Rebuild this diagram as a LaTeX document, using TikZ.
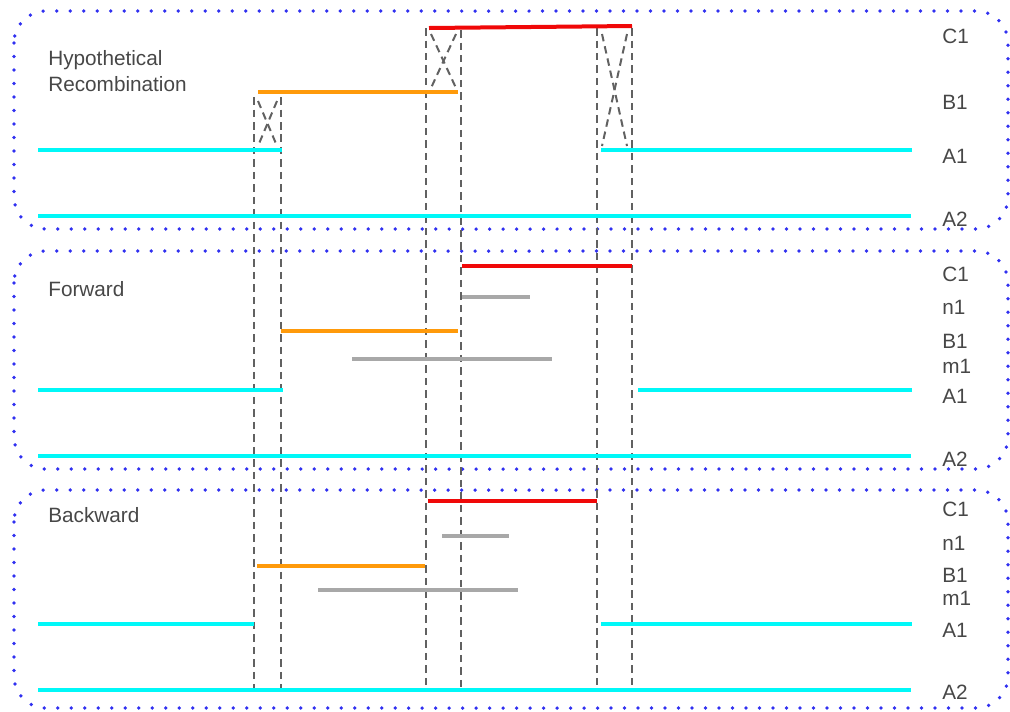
\documentclass[tikz,border=0pt]{standalone}
\usepackage{fontspec}
\setmainfont{Liberation Sans}
\usetikzlibrary{calc}

\definecolor{segred}{HTML}{F00808}
\definecolor{segorange}{HTML}{FF9A0A}
\definecolor{segcyan}{HTML}{00F8F8}
\definecolor{seggray}{HTML}{A8A8A8}
\definecolor{boxblue}{HTML}{3030F0}

\begin{document}
\begin{tikzpicture}[
  x=0.02cm, y=-0.02cm,
  panel/.style={draw=boxblue,line width=0.075cm,line cap=round,
    dash pattern=on 0pt off 0.27cm,rounded corners=0.64cm},
  seg/.style={line width=0.08cm},
  cut/.style={draw=black!62,line width=0.04cm,
    dash pattern=on 0.15cm off 0.1cm},
  lbl/.style={anchor=west,inner sep=0pt,text=black!72,
    font=\fontsize{11.8}{14.7}\selectfont}
]
  \useasboundingbox (0,0) rectangle (1010,711);

  % Panels
  \draw[panel] (14,11) rectangle (1008,229);
  \draw[panel] (14,251) rectangle (1008,469);
  \draw[panel] (14,490) rectangle (1008,708);

  \node[lbl,anchor=north west,align=left] (hyp) at (48,50)
    {Hypothetical\\Recombination};
  \node[lbl] (fwd) at (48,289) {Forward};
  \node[lbl] (bwd) at (48,515) {Backward};

  % Breakpoints
  \draw[cut] (254,97) -- (254,692);
  \draw[cut] (281,97) -- (281,692);
  \draw[cut] (426,28) -- (426,692);
  \draw[cut] (461,30) -- (461,692);
  \draw[cut] (597,28) -- (597,692);
  \draw[cut] (632,28) -- (632,692);

  % Crossings
  \draw[cut] (258,101) -- (277,146);
  \draw[cut] (277,101) -- (258,146);
  \draw[cut] (431,34) -- (456,88);
  \draw[cut] (456,34) -- (431,88);
  \draw[cut] (602,34) -- (627,146);
  \draw[cut] (627,34) -- (602,146);

  % Hypothetical recombination
  \draw[seg,segred] (429,28) -- (632,26);
  \draw[seg,segorange] (258,92) -- (458,92);
  \draw[seg,segcyan] (38,150) -- (282,150);
  \draw[seg,segcyan] (601,150) -- (912,150);
  \draw[seg,segcyan] (38,216) -- (911,216);

  \node[lbl] (c1a) at (942,36) {C1};
  \node[lbl] (b1a) at (942,102) {B1};
  \node[lbl] (a1a) at (942,156) {A1};
  \node[lbl] (a2a) at (942,219) {A2};

  % Forward
  \draw[seg,segred] (462,266) -- (632,266);
  \draw[seg,seggray] (462,297) -- (530,297);
  \draw[seg,segorange] (281,331) -- (458,331);
  \draw[seg,seggray] (352,359) -- (552,359);
  \draw[seg,segcyan] (38,390) -- (283,390);
  \draw[seg,segcyan] (638,390) -- (912,390);
  \draw[seg,segcyan] (38,456) -- (911,456);

  \node[lbl] (c1b) at (942,274) {C1};
  \node[lbl] (n1b) at (942,307) {n1};
  \node[lbl] (b1b) at (942,341) {B1};
  \node[lbl] (m1b) at (942,366) {m1};
  \node[lbl] (a1b) at (942,396) {A1};
  \node[lbl] (a2b) at (942,459) {A2};

  % Backward
  \draw[seg,segred] (428,501) -- (597,501);
  \draw[seg,seggray] (442,536) -- (509,536);
  \draw[seg,segorange] (257,566) -- (425,566);
  \draw[seg,seggray] (318,590) -- (518,590);
  \draw[seg,segcyan] (38,624) -- (254,624);
  \draw[seg,segcyan] (601,624) -- (912,624);
  \draw[seg,segcyan] (38,690) -- (911,690);

  \node[lbl] (c1c) at (942,509) {C1};
  \node[lbl] (n1c) at (942,543) {n1};
  \node[lbl] (b1c) at (942,575) {B1};
  \node[lbl] (m1c) at (942,598) {m1};
  \node[lbl] (a1c) at (942,630) {A1};
  \node[lbl] (a2c) at (942,692) {A2};
\end{tikzpicture}
\end{document}
